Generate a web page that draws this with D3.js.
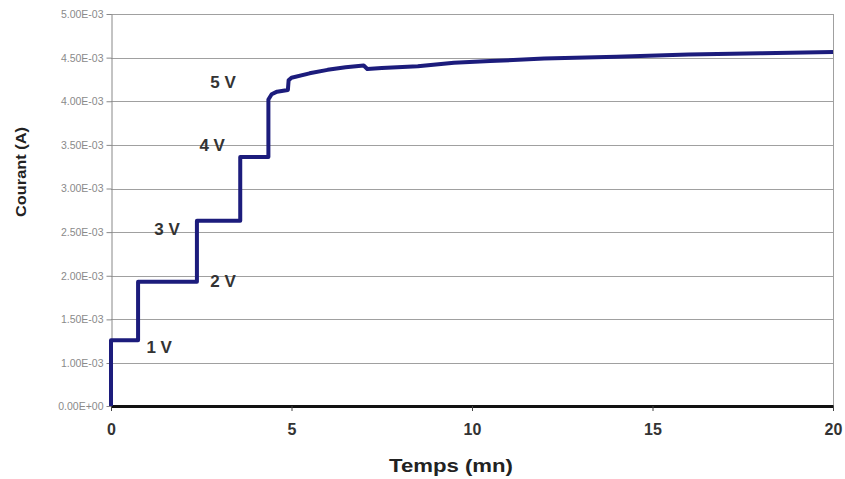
<!DOCTYPE html>
<html>
<head>
<meta charset="utf-8">
<script src="https://cdn.jsdelivr.net/npm/d3@7"></script>
<style>
  html, body { margin: 0; padding: 0; background: #fff; }
  svg { display: block; }
</style>
</head>
<body>
<svg id="chart" width="845" height="479"></svg>
<script>
// ---- data (time in minutes, current in A) ----
const timeMin = [0, 0, 0.75, 0.75, 2.38, 2.38, 3.58, 3.58, 4.36, 4.36, 4.45, 4.6, 4.9, 4.92, 5.0, 5.5, 6.0, 6.5, 7.0, 7.1, 7.5, 8.5, 9.5, 10.5, 12, 14, 16, 18, 20];
const currentA = [0, 1.26e-3, 1.26e-3, 1.93e-3, 1.93e-3, 2.63e-3, 2.63e-3, 3.36e-3, 3.36e-3, 4.02e-3, 4.08e-3, 4.11e-3, 4.13e-3, 4.24e-3, 4.27e-3, 4.32e-3, 4.36e-3, 4.39e-3, 4.41e-3, 4.37e-3, 4.38e-3, 4.40e-3, 4.44e-3, 4.46e-3, 4.49e-3, 4.51e-3, 4.535e-3, 4.55e-3, 4.565e-3];

const xTicks = [0, 5, 10, 15, 20];
const yTickValues = [0, 1.0e-3, 1.5e-3, 2.0e-3, 2.5e-3, 3.0e-3, 3.5e-3, 4.0e-3, 4.5e-3, 5.0e-3];
const yTickLabels = ["0.00E+00", "1.00E-03", "1.50E-03", "2.00E-03", "2.50E-03", "3.00E-03", "3.50E-03", "4.00E-03", "4.50E-03", "5.00E-03"];

const stepLabels = ["1 V", "2 V", "3 V", "4 V", "5 V"];
const stepLabelTime = [0.98, 2.75, 1.2, 2.45, 2.75];
const stepLabelCurrent = [1.18e-3, 1.94e-3, 2.54e-3, 3.50e-3, 4.22e-3];

const xTitle = "Temps (mn)";
const yTitle = "Courant (A)";

// ---- layout ----
const plotL = 111, plotR = 833, plotT = 14, plotB = 406;
const svg = d3.select("#chart");
const FONT = "Liberation Sans, Arial, sans-serif";

const x = d3.scaleLinear().domain([0, 20]).range([plotL, plotR]);
// axis as drawn: 0 and 1E-3 share one interval, then 0.5E-3 steps
const y = d3.scaleLinear().domain([0, 1e-3, 5e-3]).range([plotB, 363, plotT]);

// gridlines
svg.append("g").selectAll("line")
  .data(yTickValues.filter(v => v > 0))
  .join("line")
  .attr("x1", plotL).attr("x2", plotR)
  .attr("y1", d => Math.round(y(d)) + 0.5).attr("y2", d => Math.round(y(d)) + 0.5)
  .attr("stroke", "#a0a0a0").attr("stroke-width", 1);

// right border
svg.append("line")
  .attr("x1", plotR + 0.5).attr("x2", plotR + 0.5)
  .attr("y1", plotT).attr("y2", plotB)
  .attr("stroke", "#a0a0a0").attr("stroke-width", 1);

// y axis
const yAxis = d3.axisLeft(y)
  .tickValues(yTickValues)
  .tickFormat((d, i) => yTickLabels[i])
  .tickSize(5).tickSizeOuter(0).tickPadding(3);
const gy = svg.append("g").attr("transform", `translate(${plotL + 0.5},0)`).call(yAxis);
gy.select(".domain").attr("stroke", "#888");
gy.selectAll(".tick line").attr("stroke", "#888");
gy.selectAll(".tick text")
  .attr("font-family", FONT)
  .attr("font-size", 10.5).attr("fill", "#8a8a8a");

// x axis
const xAxis = d3.axisBottom(x).tickValues(xTicks).tickFormat(d3.format("d"))
  .tickSize(5).tickSizeOuter(0).tickPadding(13);
const gx = svg.append("g").attr("transform", `translate(0,${plotB})`).call(xAxis);
gx.select(".domain").attr("stroke", "#111").attr("stroke-width", 3);
gx.selectAll(".tick line").attr("stroke", "#444");
gx.selectAll(".tick text")
  .attr("font-family", FONT)
  .attr("font-weight", "bold").attr("font-size", 16).attr("fill", "#333");

// data line
const line = d3.line().x((d, i) => x(timeMin[i])).y((d, i) => y(currentA[i]));
svg.append("path")
  .datum(currentA)
  .attr("d", line)
  .attr("fill", "none")
  .attr("stroke", "#1c1c7c")
  .attr("stroke-width", 4)
  .attr("stroke-linejoin", "round")
  .attr("stroke-linecap", "butt");

// step labels
svg.append("g").selectAll("text")
  .data(stepLabels)
  .join("text")
  .attr("x", (d, i) => x(stepLabelTime[i]))
  .attr("y", (d, i) => y(stepLabelCurrent[i]))
  .attr("dy", "0.35em")
  .attr("font-family", FONT)
  .attr("font-weight", "bold").attr("font-size", 17).attr("fill", "#333")
  .text(d => d);

// axis titles
svg.append("text")
  .attr("x", 451).attr("y", 472)
  .attr("text-anchor", "middle")
  .attr("font-family", FONT)
  .attr("font-weight", "bold").attr("font-size", 18).attr("fill", "#222")
  .attr("textLength", 124).attr("lengthAdjust", "spacingAndGlyphs")
  .text(xTitle);

svg.append("text")
  .attr("transform", "translate(26,172) rotate(-90)")
  .attr("text-anchor", "middle")
  .attr("font-family", FONT)
  .attr("font-weight", "bold").attr("font-size", 15).attr("fill", "#222")
  .attr("textLength", 90).attr("lengthAdjust", "spacingAndGlyphs")
  .text(yTitle);
</script>
</body>
</html>
